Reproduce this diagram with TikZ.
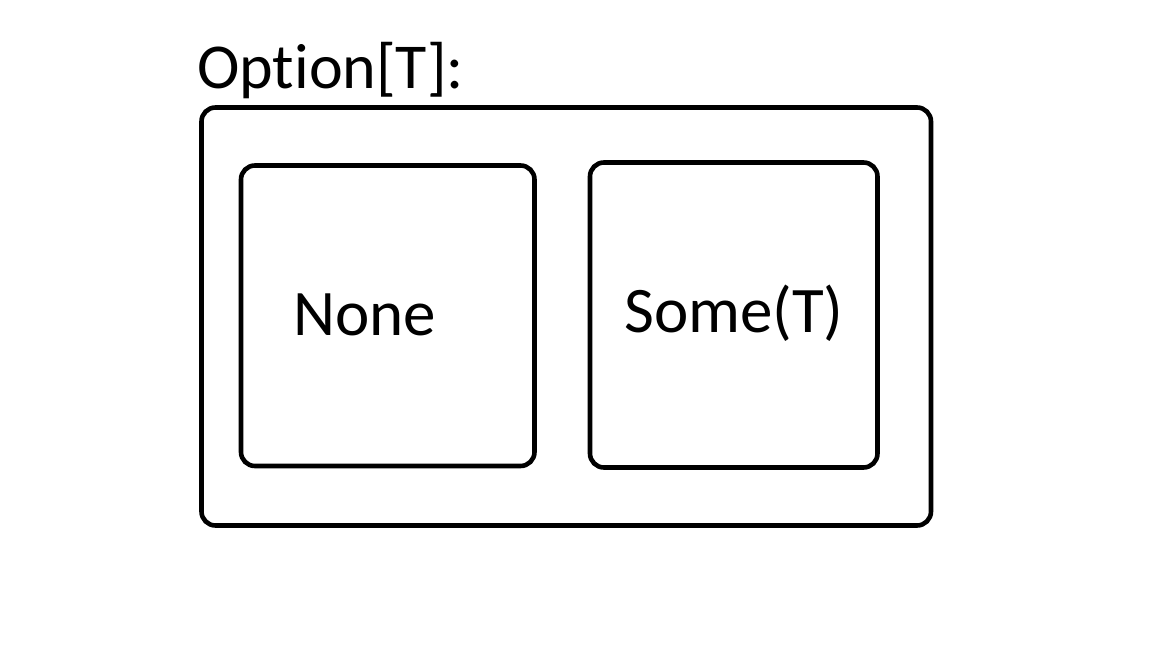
\documentclass[tikz,border=0pt]{standalone}
\usepackage{fontspec}
\setmainfont[Ligatures={NoCommon,NoRare}]{Carlito}
\begin{document}
\begin{tikzpicture}[x=1pt,y=-1pt,
  box/.style={draw=black,line width=4.6pt,rounded corners=14pt},
  lbl/.style={inner sep=0pt,anchor=base west}]
\useasboundingbox (0,0) rectangle (1152,648);
\draw[box] (201.5,107.5) rectangle (931,525.5);
\draw[box] (241,165.5) rectangle (534.5,466);
\draw[box] (590,162.5) rectangle (877.5,467.5);
\node[lbl,font=\fontsize{64}{72}\selectfont] (title) at (197,88) {Option[T]:};
\node[lbl,font=\fontsize{65}{72}\selectfont] (none) at (293,335) {None};
\node[lbl,font=\fontsize{65}{72}\selectfont] (some) at (624,332) {Some(T)};
\end{tikzpicture}
\end{document}
